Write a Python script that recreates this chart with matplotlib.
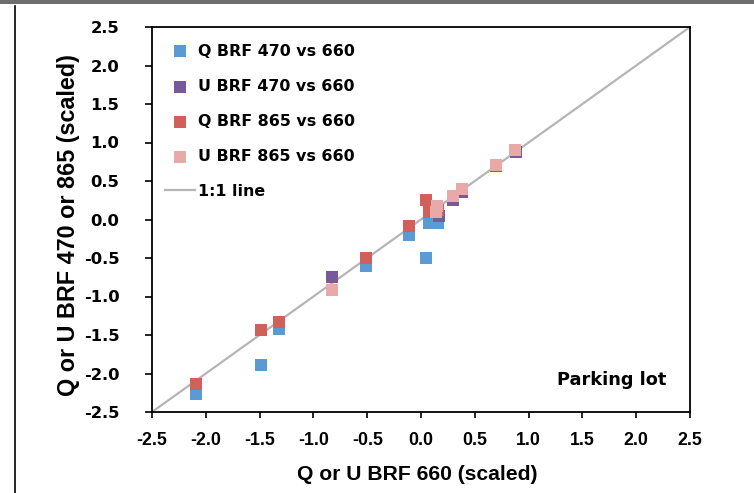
import numpy as np
import matplotlib
matplotlib.use("Agg")
import matplotlib.pyplot as plt
from matplotlib.lines import Line2D
from matplotlib.patches import Rectangle

# values (x = 660 band, y = 470 or 865 band)
q470_x = [-2.09, -1.49, -1.32, -0.51, -0.11, 0.05, 0.07, 0.16]
q470_y = [-2.26, -1.89, -1.42, -0.60, -0.20, -0.50, -0.04, -0.04]

u470_x = [-0.83, 0.17, 0.30, 0.38, 0.70, 0.88]
u470_y = [-0.75, 0.05, 0.25, 0.36, 0.70, 0.88]

q865_x = [-2.09, -1.49, -1.32, -0.51, -0.11, 0.05, 0.07, 0.16]
q865_y = [-2.13, -1.43, -1.33, -0.50, -0.08, 0.25, 0.10, 0.12]

u865_x = [-0.83, 0.15, 0.14, 0.30, 0.38, 0.70, 0.87]
u865_y = [-0.91, 0.18, 0.10, 0.31, 0.39, 0.71, 0.90]

series_labels = ["Q BRF 470 vs 660", "U BRF 470 vs 660",
                 "Q BRF 865 vs 660", "U BRF 865 vs 660"]
series_colors = ["#5B9AD3", "#775A98", "#D2605A", "#E8A9A8"]

lims = [-2.5, 2.5]
ticks = np.arange(-2.5, 2.51, 0.5)

W, H = 754, 493
fig = plt.figure(figsize=(W / 100, H / 100), dpi=100)
ax = fig.add_axes([152 / W, 1 - 412 / H, 538 / W, 385 / H])

# page frame bits around the chart
fig.add_artist(Rectangle((0, 1 - 4 / H), 1, 4 / H, transform=fig.transFigure,
                         facecolor="#6E6E6E", edgecolor="none"))
fig.add_artist(Line2D([15 / W, 15 / W], [0, 1 - 6 / H], transform=fig.transFigure,
                      color="black", lw=1.2))

ax.plot(lims, lims, color="#B5B5B5", lw=1.6, zorder=1, label="1:1 line")

data = [(q470_x, q470_y), (u470_x, u470_y), (q865_x, q865_y), (u865_x, u865_y)]
for (xs, ys), lab, col in zip(data, series_labels, series_colors):
    ax.scatter(xs, ys, s=78, marker="s", color=col, linewidths=0, zorder=3, label=lab)

ax.set_xlim(lims)
ax.set_ylim(lims)
ax.set_xticks(ticks)
ax.set_yticks(ticks)
ax.set_xticklabels([f"{t:.1f}" for t in ticks], fontfamily="Liberation Sans",
                   fontweight="bold", fontsize=12.8)
ax.set_yticklabels([f"{t:.1f}" for t in ticks], fontfamily="DejaVu Sans",
                   fontweight="bold", fontsize=11.8)
ax.tick_params(axis="x", direction="out", length=4, width=1.2, pad=10.5)
ax.tick_params(axis="y", direction="out", length=5, width=1.2, pad=18.5)
for sp in ax.spines.values():
    sp.set_linewidth(1.3)

ax.set_xlabel("Q or U BRF 660 (scaled)", fontfamily="Liberation Sans",
              fontweight="bold", fontsize=15.2)
ax.xaxis.set_label_coords(0.4926, -0.138)
ax.set_ylabel("Q or U BRF 470 or 865 (scaled)", fontfamily="Liberation Sans",
              fontweight="bold", fontsize=16.8)
ax.yaxis.set_label_coords(-0.134, 0.486)

ax.text(0.855, 0.083, "Parking lot", transform=ax.transAxes, ha="center",
        va="center", fontfamily="DejaVu Sans", fontweight="bold", fontsize=12.8)

handles, labels = ax.get_legend_handles_labels()
order = [1, 2, 3, 4, 0]
leg = ax.legend([handles[i] for i in order], [labels[i] for i in order],
                loc="upper left", bbox_to_anchor=(0.024, 0.957), frameon=False,
                borderpad=0, borderaxespad=0, handlelength=1.9, handletextpad=0.2,
                labelspacing=1.27, scatterpoints=1,
                prop={"family": "DejaVu Sans", "weight": "bold", "size": 11.4})

fig.savefig("out.png", dpi=100)
